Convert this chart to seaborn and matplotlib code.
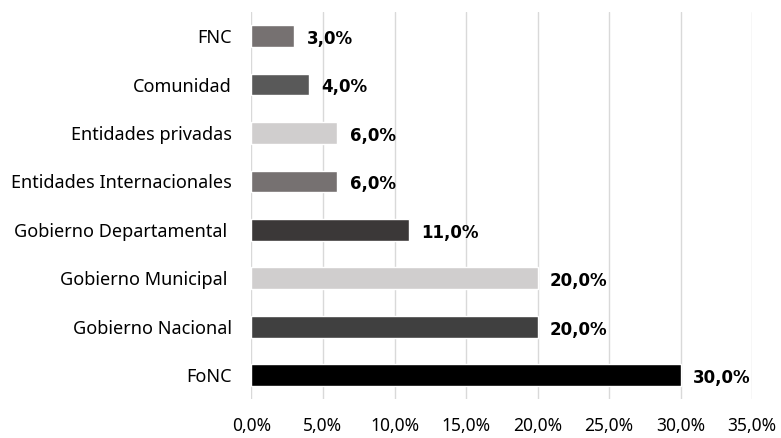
import seaborn as sns
import matplotlib.pyplot as plt
import pandas as pd
from matplotlib.ticker import FuncFormatter

# datos
categorias = ['FNC', 'Comunidad', 'Entidades privadas', 'Entidades Internacionales',
              'Gobierno Departamental ', 'Gobierno Municipal ', 'Gobierno Nacional', 'FoNC']
valores = [3.0, 4.0, 6.0, 6.0, 11.0, 20.0, 20.0, 30.0]
colores = ['#767171', '#595959', '#d0cece', '#767171', '#3b3838', '#d0cece', '#404040', '#000000']

sns.set_style('white')
plt.rcParams['font.family'] = ['Noto Sans', 'DejaVu Sans']

df = pd.DataFrame({'cat': categorias, 'val': valores})

fig, ax = plt.subplots(figsize=(7.81, 4.38), dpi=100)
fig.subplots_adjust(left=0.322, right=0.963, top=0.973, bottom=0.088)

sns.barplot(data=df, x='val', y='cat', hue='cat', palette=colores, legend=False,
            width=0.45, orient='h', ax=ax, saturation=1)

# etiquetas de valor en negrita
for i, v in enumerate(valores):
    ax.annotate(f'{v:.1f}%'.replace('.', ','), (v, i), xytext=(9, -2),
                textcoords='offset points', va='center', ha='left',
                fontsize=12, fontweight='bold', color='black', family=['DejaVu Sans'])

ax.set_xlim(0, 35)
ax.set_ylim(7.5, -0.5)
ax.set_xticks(range(0, 36, 5))
ax.xaxis.set_major_formatter(FuncFormatter(lambda x, p: f'{x:.1f}%'.replace('.', ',')))
ax.grid(axis='x', color='#d9d9d9', linewidth=1)
ax.set_axisbelow(True)
for s in ax.spines.values():
    s.set_visible(False)
ax.set_xlabel('')
ax.set_ylabel('')
ax.tick_params(axis='both', length=0, colors='black')
ax.tick_params(axis='y', pad=14, labelsize=13)
ax.tick_params(axis='x', pad=12.5, labelsize=12.5)

plt.savefig('out.png', dpi=100)
